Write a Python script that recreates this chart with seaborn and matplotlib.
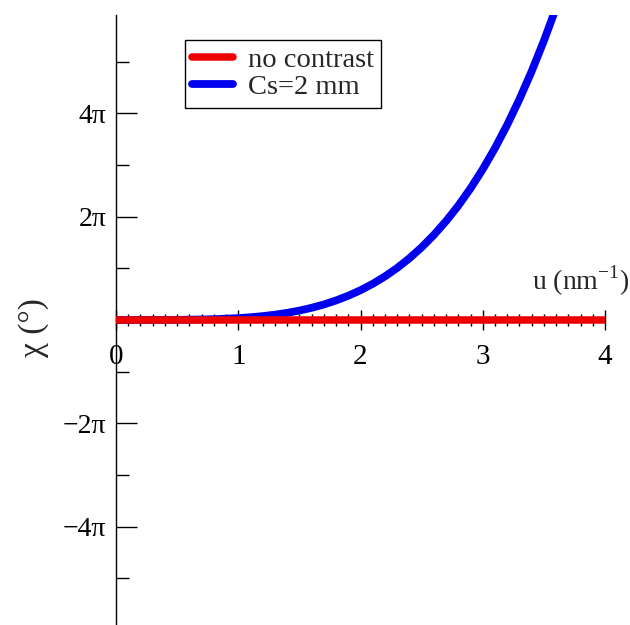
import numpy as np
import pandas as pd
import matplotlib
matplotlib.use("Agg")
import matplotlib.pyplot as plt
from matplotlib.ticker import MultipleLocator, FuncFormatter
import seaborn as sns

# Spatial frequency u (nm^-1) and phase shift chi (in units of pi)
u_cs = [0.0, 0.5, 0.8, 1.0, 1.1, 1.2, 1.3, 1.4, 1.5, 1.6, 1.7, 1.8, 1.9, 2.0,
        2.1, 2.2, 2.3, 2.4, 2.5, 2.6, 2.7, 2.8, 2.9, 3.0, 3.1, 3.2, 3.3, 3.4,
        3.5, 3.6]
chi_cs = [0.0, 0.002, 0.015, 0.036, 0.053, 0.075, 0.103, 0.138, 0.182, 0.236,
          0.30, 0.378, 0.469, 0.576, 0.70, 0.843, 1.007, 1.194, 1.406, 1.645,
          1.913, 2.212, 2.546, 2.916, 3.325, 3.775, 4.27, 4.81, 5.40, 6.04]
u_flat = [0.0, 4.0]
chi_flat = [0.0, 0.0]
series_labels = ["no contrast", "Cs=2 mm"]
y_tick_labels = {-4: "\u22124\u03c0", -2: "\u22122\u03c0", 2: "2\u03c0", 4: "4\u03c0"}
x_tick_labels = ["0", "1", "2", "3", "4"]

sns.set_style("white")
plt.rcParams["font.family"] = ["Liberation Serif", "DejaVu Serif"]
plt.rcParams["mathtext.fontset"] = "custom"
plt.rcParams["mathtext.rm"] = "Liberation Serif"

fig = plt.figure(figsize=(6.3, 6.25), dpi=100)
ax = fig.add_axes([116 / 630, 0.0, (605 - 116) / 630, (625 - 15) / 625])

flat = pd.DataFrame({"u": u_flat, "chi": chi_flat})
cs = pd.DataFrame({"u": u_cs, "chi": chi_cs})
sns.lineplot(data=cs, x="u", y="chi", ax=ax, color="#0000ee", lw=5.6,
             label=series_labels[1], zorder=2)
sns.lineplot(data=flat, x="u", y="chi", ax=ax, color="#ee0000", lw=5.4,
             label=series_labels[0], zorder=3)

ax.set_xlim(0, 4)
ax.set_ylim(-5.9, 5.9)

for s in ("top", "right"):
    ax.spines[s].set_visible(False)
ax.spines["bottom"].set_position(("data", 0))
for s in ("left", "bottom"):
    ax.spines[s].set_linewidth(1.0)
    ax.spines[s].set_color("black")

ax.xaxis.set_minor_locator(MultipleLocator(0.1))
ax.set_xticks(range(len(x_tick_labels)))
ax.set_xticklabels(x_tick_labels)
ax.yaxis.set_major_locator(MultipleLocator(2))
ax.yaxis.set_minor_locator(MultipleLocator(1))
ax.yaxis.set_major_formatter(FuncFormatter(lambda v, p: y_tick_labels.get(int(round(v)), "")))

ax.tick_params(axis="x", which="major", direction="inout", length=15, width=1.0,
               labelsize=21, pad=10, bottom=True, colors="black")
ax.tick_params(axis="x", which="minor", direction="inout", length=9, width=1.0,
               bottom=True, colors="black")
ax.tick_params(axis="y", which="major", direction="in", length=15, width=1.0,
               labelsize=20, pad=7, left=True, colors="black")
ax.tick_params(axis="y", which="minor", direction="in", length=9, width=1.0,
               left=True, colors="black")

ax.set_xlabel("")
ax.set_ylabel("")
fig.text(34 / 630, 1 - 328 / 625, "\u03c7 (\u00b0)", rotation=90, fontsize=24,
         ha="center", va="center")
ax.text(4.2, 0.58, r"u (nm$^{\mathrm{-1}}$)", fontsize=20, ha="right",
        va="baseline", clip_on=False)

handles, labels = ax.get_legend_handles_labels()
order = [labels.index(series_labels[0]), labels.index(series_labels[1])]
leg = ax.legend([handles[i] for i in order], [labels[i] for i in order],
                loc="upper left", bbox_to_anchor=(185 / 630, 1 - 40 / 625),
                bbox_transform=fig.transFigure, borderaxespad=0,
                fontsize=20.5, handlelength=1.45, handletextpad=0.5,
                labelspacing=0.05, borderpad=0.25, fancybox=False,
                framealpha=1, edgecolor="black")
leg.get_frame().set_linewidth(1.0)

fig.savefig("out.png", dpi=100)
